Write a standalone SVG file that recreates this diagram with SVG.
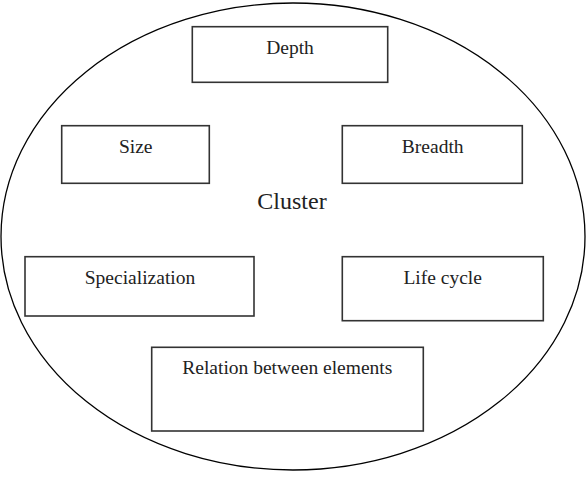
<svg xmlns="http://www.w3.org/2000/svg" width="587" height="484" viewBox="0 0 587 484">
<style>
.box{fill:#fff;stroke:#333;stroke-width:1.6}
.lbl{font-family:"Liberation Serif","Times New Roman",serif;font-size:19.5px;fill:#222;text-anchor:middle}
.big{font-size:24px}
</style>
<rect width="587" height="484" fill="#fff"/>
<g id="cluster">
<ellipse cx="293" cy="236.5" rx="292" ry="233.5" fill="none" stroke="#000" stroke-width="1.3"/>
<text class="lbl big" x="292" y="208.5">Cluster</text>
</g>
<g id="connectors"></g>
<g id="depth"><rect class="box" x="192.3" y="26.7" width="195.4" height="55.6"/><text class="lbl" x="290" y="54">Depth</text></g>
<g id="size"><rect class="box" x="61.7" y="125.7" width="147.6" height="57.6"/><text class="lbl" x="135.7" y="153">Size</text></g>
<g id="breadth"><rect class="box" x="342.3" y="125.7" width="180" height="57.6"/><text class="lbl" x="432.7" y="153">Breadth</text></g>
<g id="specialization"><rect class="box" x="25" y="256.7" width="229" height="59.3"/><text class="lbl" x="140" y="283.5">Specialization</text></g>
<g id="lifecycle"><rect class="box" x="342.3" y="256.7" width="201" height="64"/><text class="lbl" x="442.7" y="283.5">Life cycle</text></g>
<g id="relation"><rect class="box" x="151.7" y="347.3" width="271.6" height="83.7"/><text class="lbl" x="287.3" y="374">Relation between elements</text></g>
</svg>
